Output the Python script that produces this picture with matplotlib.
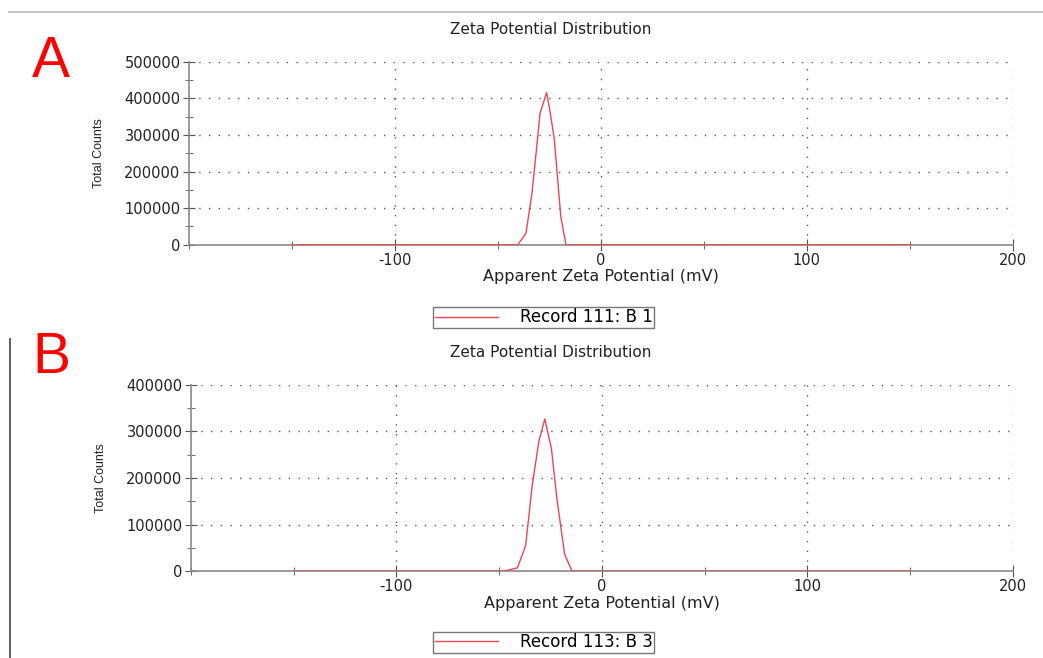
import matplotlib.pyplot as plt
from matplotlib.ticker import MultipleLocator
from matplotlib.lines import Line2D

plt.rcParams['font.family'] = ['DejaVu Sans']

# Record 111: B 1 (panel A)
zeta_a = [-150, -40.3, -36.3, -33.4, -30.6, -29.5, -26.3, -25.0, -22.6, -19.4, -16.9, 150]
counts_a = [0, 0, 32000, 141000, 295000, 359000, 416000, 377000, 291000, 77000, 0, 0]

# Record 113: B 3 (panel B)
zeta_b = [-150, -47.6, -41.1, -37.1, -33.9, -30.6, -27.7, -24.5, -21.8, -18.1, -14.5, 150]
counts_b = [0, 0, 7000, 54000, 183000, 280000, 327000, 262000, 154000, 36000, 0, 0]

x_ticks = [-100, 0, 100, 200]
panels = [
    ('A', zeta_a, counts_a, 500000, 'Record 111: B 1'),
    ('B', zeta_b, counts_b, 400000, 'Record 113: B 3'),
]

fig = plt.figure(figsize=(10.43, 6.58), dpi=100)

# axes boxes: left, bottom, width, height
boxes = [[0.181, 0.628, 0.790, 0.278], [0.183, 0.132, 0.788, 0.283]]
title_y = [0.955, 0.464]
letter_pos = [(0.0484, 0.883), (0.0490, 0.433)]
legend_anchor = [(0.415, 0.5015), (0.415, 0.0076)]

grey = '#8a8a8a'
for i, (letter, xs, ys, ymax, label) in enumerate(panels):
    ax = fig.add_axes(boxes[i])
    ax.plot(xs, ys, color='#e8474f', lw=1.0, zorder=3)
    ax.set_xlim(-200, 200)
    ax.set_ylim(0, ymax)
    ax.xaxis.set_major_locator(MultipleLocator(100))
    ax.xaxis.set_minor_locator(MultipleLocator(50))
    ax.yaxis.set_major_locator(MultipleLocator(100000))
    ax.yaxis.set_minor_locator(MultipleLocator(50000))
    for s in ['top', 'right']:
        ax.spines[s].set_visible(False)
    for s in ['left', 'bottom']:
        ax.spines[s].set_color(grey)
        ax.spines[s].set_linewidth(1.2)
    ax.tick_params(which='major', direction='inout', length=8, color='#555555',
                   labelsize=10.5, labelcolor='#222222', pad=2)
    ax.tick_params(which='minor', direction='inout', length=6, color='#555555')
    ax.set_xticks(x_ticks)
    ax.set_xticklabels([str(t) for t in x_ticks])
    ax.grid(True, which='major', linestyle=(0, (1, 6)), color='#555555', lw=1.0)
    ax.set_xlabel('Apparent Zeta Potential (mV)', fontsize=11.5, color='#222222', labelpad=1)
    ax.set_ylabel('Total Counts', fontsize=9, color='#222222', labelpad=14,
                  family=['Liberation Sans', 'DejaVu Sans'])
    fig.text(0.528, title_y[i], 'Zeta Potential Distribution', ha='center', va='center',
             fontsize=11, color='#222222')
    fig.text(letter_pos[i][0], letter_pos[i][1], letter, ha='center', va='baseline',
             fontsize=41, color='#ff0000', family=['Liberation Sans', 'DejaVu Sans'])
    handle = Line2D([], [], color='#e8474f', lw=1.0)
    fig.legend([handle], [label], loc='lower left', bbox_to_anchor=legend_anchor[i],
               frameon=True, fancybox=False, edgecolor='#555555', fontsize=12,
               handlelength=3.8, handletextpad=1.3, borderpad=0.1, borderaxespad=0)

# frame lines of the screenshot
fig.add_artist(Line2D([0.009, 1.0], [0.982, 0.982], color='#bbbbbb', lw=1.2))
fig.add_artist(Line2D([0.010, 0.010], [0.0, 0.485], color='#666666', lw=1.5))

fig.savefig('out.png', dpi=100, facecolor='white')
